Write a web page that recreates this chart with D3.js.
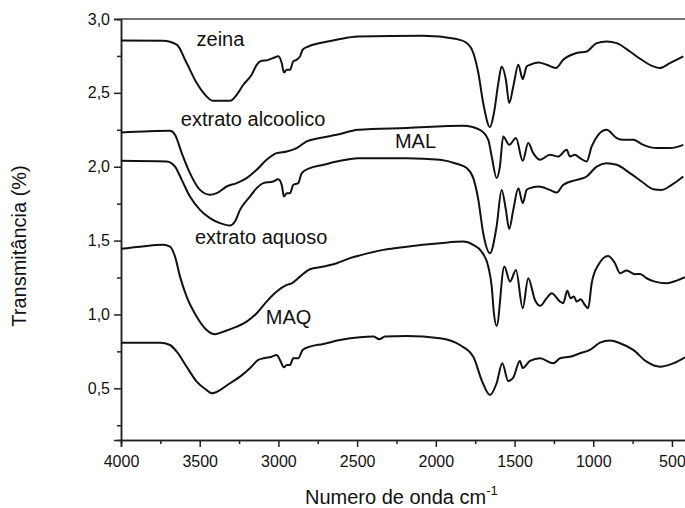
<!DOCTYPE html>
<html>
<head>
<meta charset="utf-8">
<script src="https://cdn.jsdelivr.net/npm/d3@7"></script>
<style>
  body { margin: 0; background: #fff; }
  svg text { font-family: "Liberation Sans", Arial, sans-serif; fill: #111; }
  .line { fill: none; stroke: #111; stroke-width: 2; stroke-linejoin: round; }
</style>
</head>
<body>
<div id="chart"></div>
<script>
// Spectra: [wavenumber cm-1, transmittance]
const zeina = [
  [4000, 2.855], [3733, 2.853], [3646, 2.826], [3583, 2.702], [3519, 2.566], [3456, 2.476],
  [3416, 2.446], [3308, 2.446], [3265, 2.487], [3223, 2.555], [3170, 2.623], [3138, 2.690],
  [3106, 2.717], [3075, 2.720], [3033, 2.736], [3001, 2.747], [2979, 2.702], [2965, 2.638],
  [2947, 2.657], [2926, 2.657], [2906, 2.713], [2884, 2.724], [2863, 2.747], [2846, 2.792],
  [2810, 2.814], [2736, 2.837], [2630, 2.860], [2495, 2.882], [2082, 2.887], [1868, 2.864],
  [1804, 2.837], [1762, 2.770], [1730, 2.634], [1699, 2.431], [1656, 2.268], [1631, 2.363],
  [1603, 2.566], [1582, 2.679], [1555, 2.589], [1534, 2.431], [1508, 2.543], [1476, 2.690],
  [1448, 2.593], [1423, 2.679], [1402, 2.690], [1349, 2.706], [1296, 2.690], [1237, 2.668],
  [1191, 2.724], [1105, 2.770], [1042, 2.780], [978, 2.837], [915, 2.848], [851, 2.837],
  [767, 2.780], [693, 2.724], [619, 2.679], [576, 2.668], [513, 2.702], [428, 2.747]
];
const extratoAlcoolico = [
  [4000, 2.232], [3689, 2.243], [3657, 2.216], [3614, 2.092], [3562, 1.957], [3498, 1.843],
  [3435, 1.810], [3392, 1.821], [3329, 1.866], [3265, 1.889], [3202, 1.923], [3138, 1.979],
  [3075, 2.047], [3011, 2.092], [2947, 2.103], [2884, 2.126], [2820, 2.171], [2736, 2.194],
  [2630, 2.216], [2493, 2.250], [2185, 2.262], [1826, 2.277], [1720, 2.250], [1667, 2.182],
  [1645, 2.069], [1614, 1.923], [1593, 2.001], [1572, 2.205], [1534, 2.148], [1491, 2.194],
  [1448, 2.040], [1413, 2.160], [1381, 2.092], [1338, 2.047], [1275, 2.081], [1222, 2.069],
  [1169, 2.115], [1148, 2.069], [1116, 2.081], [1084, 2.058], [1042, 2.035], [1010, 2.137],
  [968, 2.216], [915, 2.250], [851, 2.194], [809, 2.182], [746, 2.182], [682, 2.148],
  [597, 2.126], [513, 2.126], [428, 2.148]
];
const mal = [
  [4000, 2.040], [3710, 2.035], [3657, 2.001], [3614, 1.911], [3562, 1.798], [3498, 1.708],
  [3435, 1.652], [3371, 1.618], [3308, 1.602], [3276, 1.629], [3244, 1.708], [3181, 1.798],
  [3138, 1.855], [3096, 1.889], [3033, 1.900], [3001, 1.916], [2979, 1.877], [2965, 1.798],
  [2947, 1.821], [2926, 1.821], [2906, 1.877], [2874, 1.889], [2852, 1.957], [2800, 1.991],
  [2715, 2.013], [2630, 2.035], [2493, 2.058], [2185, 2.058], [1974, 2.047], [1868, 2.020],
  [1804, 1.991], [1762, 1.923], [1730, 1.776], [1699, 1.550], [1656, 1.415], [1614, 1.595],
  [1582, 1.843], [1555, 1.708], [1534, 1.578], [1508, 1.708], [1476, 1.855], [1448, 1.753],
  [1423, 1.843], [1402, 1.855], [1349, 1.866], [1275, 1.843], [1232, 1.825], [1191, 1.877],
  [1105, 1.911], [1042, 1.934], [978, 2.001], [915, 2.024], [851, 2.013], [767, 1.957],
  [693, 1.900], [619, 1.848], [566, 1.843], [502, 1.877], [428, 1.934]
];
const extratoAquoso = [
  [4000, 1.444], [3879, 1.459], [3731, 1.471], [3689, 1.459], [3657, 1.392], [3625, 1.256],
  [3583, 1.121], [3519, 0.985], [3456, 0.895], [3403, 0.866], [3350, 0.883], [3265, 0.917],
  [3202, 0.951], [3138, 1.008], [3075, 1.087], [3011, 1.155], [2947, 1.200], [2916, 1.211],
  [2863, 1.256], [2800, 1.306], [2715, 1.324], [2630, 1.347], [2545, 1.381], [2482, 1.400],
  [2334, 1.437], [2185, 1.459], [1974, 1.482], [1826, 1.493], [1762, 1.471], [1709, 1.425],
  [1667, 1.324], [1645, 1.188], [1631, 1.008], [1614, 0.922], [1565, 1.324], [1529, 1.222],
  [1491, 1.301], [1448, 1.042], [1413, 1.245], [1370, 1.098], [1338, 1.058], [1296, 1.110],
  [1264, 1.144], [1211, 1.087], [1191, 1.076], [1165, 1.161], [1144, 1.110], [1123, 1.121],
  [1105, 1.087], [1080, 1.103], [1053, 1.064], [1032, 1.042], [1010, 1.211], [968, 1.335],
  [905, 1.396], [862, 1.347], [830, 1.279], [788, 1.297], [735, 1.272], [703, 1.274],
  [661, 1.245], [608, 1.222], [534, 1.211], [470, 1.229], [417, 1.252]
];
const maq = [
  [4000, 0.809], [3752, 0.809], [3689, 0.793], [3646, 0.748], [3583, 0.646], [3519, 0.545],
  [3456, 0.488], [3424, 0.466], [3371, 0.488], [3308, 0.534], [3244, 0.579], [3181, 0.636],
  [3128, 0.692], [3096, 0.703], [3043, 0.714], [3011, 0.726], [2990, 0.692], [2965, 0.642],
  [2947, 0.658], [2926, 0.658], [2906, 0.703], [2874, 0.703], [2846, 0.760], [2800, 0.782],
  [2715, 0.800], [2609, 0.827], [2482, 0.846], [2397, 0.850], [2359, 0.832], [2323, 0.850],
  [2185, 0.854], [1974, 0.839], [1847, 0.793], [1762, 0.714], [1709, 0.556], [1656, 0.455],
  [1614, 0.534], [1578, 0.669], [1540, 0.549], [1508, 0.573], [1466, 0.685], [1448, 0.637],
  [1402, 0.685], [1338, 0.703], [1254, 0.669], [1211, 0.703], [1148, 0.714], [1084, 0.737],
  [1021, 0.760], [957, 0.809], [894, 0.823], [830, 0.805], [746, 0.760], [661, 0.680],
  [576, 0.646], [492, 0.669], [417, 0.710]
];

const series = [zeina, extratoAlcoolico, mal, extratoAquoso, maq];

// Curve labels: [text, wavenumber, transmittance] at the text's left baseline
const labels = [
  ["zeina", 3520, 2.815],
  ["extrato alcoolico", 3620, 2.275],
  ["MAL", 2260, 2.13],
  ["extrato aquoso", 3530, 1.48],
  ["MAQ", 3080, 0.935]
];

const xTicks = [4000, 3500, 3000, 2500, 2000, 1500, 1000, 500];
const yTicks = [0.5, 1.0, 1.5, 2.0, 2.5, 3.0];

const width = 685, height = 508;
const margin = { left: 121, top: 19, bottom: 440 };

const svg = d3.select("#chart").append("svg")
  .attr("width", width)
  .attr("height", height);

const xScale = d3.scaleLinear().domain([4000, 400]).range([margin.left, 687.7]);
const yScale = d3.scaleLinear().domain([0.15, 3.0]).range([margin.bottom, margin.top]);

svg.append("defs").append("clipPath").attr("id", "plot")
  .append("rect")
  .attr("x", margin.left).attr("y", margin.top)
  .attr("width", width - margin.left).attr("height", margin.bottom - margin.top);

// Axes
const fmt = d => d3.format(".1f")(d).replace(".", ",");

const xAxis = svg.append("g")
  .attr("transform", `translate(0, ${margin.bottom})`)
  .call(d3.axisBottom(xScale).tickValues(xTicks).tickSize(7).tickPadding(9).tickFormat(d3.format("d")));
const xMinor = svg.append("g")
  .attr("transform", `translate(0, ${margin.bottom})`)
  .call(d3.axisBottom(xScale).tickValues(d3.range(3750, 400, -500)).tickSize(4).tickFormat(""));

const yAxis = svg.append("g")
  .attr("transform", `translate(${margin.left}, 0)`)
  .call(d3.axisLeft(yScale).tickValues(yTicks).tickSize(7).tickPadding(4).tickFormat(fmt));
const yMinor = svg.append("g")
  .attr("transform", `translate(${margin.left}, 0)`)
  .call(d3.axisLeft(yScale).tickValues(d3.range(0.25, 3, 0.5)).tickSize(4).tickFormat(""));

[xAxis, xMinor, yAxis, yMinor].forEach(g => {
  g.select(".domain").attr("stroke", "#222").attr("stroke-width", 1.5);
  g.selectAll(".tick line").attr("stroke", "#222").attr("stroke-width", 1.5);
  g.selectAll(".tick text").attr("font-size", 16).attr("fill", "#111")
    .attr("font-family", "'Liberation Sans', Arial, sans-serif");
});

// top frame
svg.append("line")
  .attr("x1", margin.left).attr("x2", width)
  .attr("y1", margin.top).attr("y2", margin.top)
  .attr("stroke", "#444").attr("stroke-width", 1.5);

// Spectra
const lineGenerator = d3.line()
  .x(d => xScale(d[0]))
  .y(d => yScale(d[1]))
  .curve(d3.curveMonotoneX);

svg.append("g").attr("clip-path", "url(#plot)")
  .selectAll("path")
  .data(series)
  .enter()
  .append("path")
  .attr("class", "line")
  .attr("d", lineGenerator);

svg.selectAll(".label")
  .data(labels)
  .enter()
  .append("text")
  .attr("class", "label")
  .attr("x", d => xScale(d[1]))
  .attr("y", d => yScale(d[2]))
  .attr("font-size", 20)
  .text(d => d[0]);

// Axis titles
const xTitle = svg.append("text")
  .attr("x", 305).attr("y", 504)
  .attr("font-size", 20);
xTitle.append("tspan").text("Numero de onda cm");
xTitle.append("tspan").attr("dy", -9).attr("font-size", 13).text("-1");

svg.append("text")
  .attr("transform", "translate(26, 246) rotate(-90)")
  .attr("text-anchor", "middle")
  .attr("font-size", 20)
  .text("Transmitância (%)");
</script>
</body>
</html>
